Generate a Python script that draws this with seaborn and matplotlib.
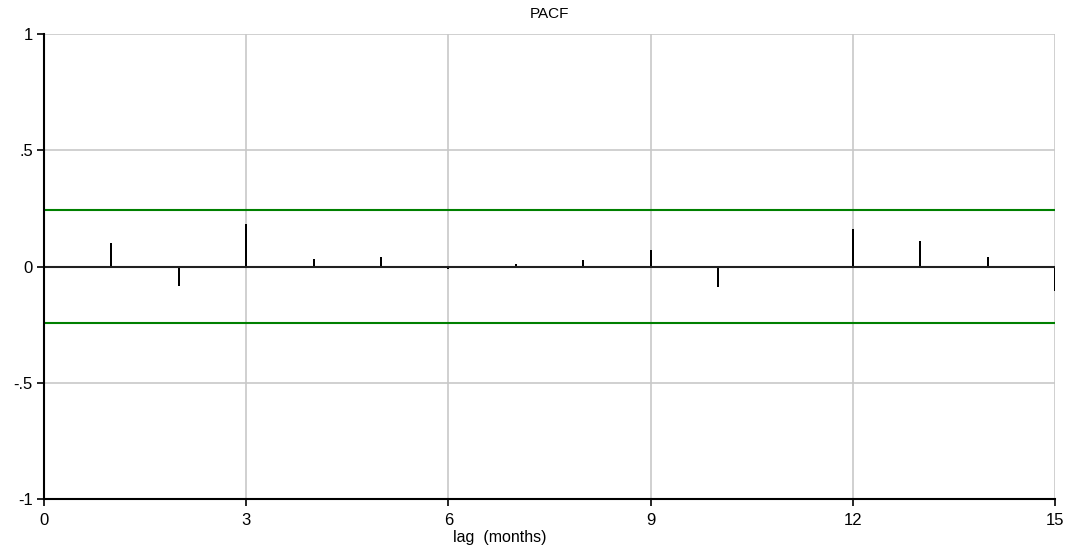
import matplotlib
matplotlib.use("Agg")
import matplotlib.pyplot as plt
import seaborn as sns
import numpy as np
import pandas as pd

lags = [1, 2, 3, 4, 5, 6, 7, 8, 9, 10, 11, 12, 13, 14, 15]
pacf = [0.103, -0.082, 0.182, 0.034, 0.041, -0.012, 0.009, 0.026, 0.073,
        -0.090, 0.0, 0.159, 0.110, 0.041, -0.105]
conf_bound = 0.243
x_ticks = [0, 3, 6, 9, 12, 15]
y_ticks = [-1, -0.5, 0, 0.5, 1]
y_tick_labels = ["-1", "-.5", "0", ".5", "1"]

sns.set_style("white")
plt.rcParams["font.family"] = ["Liberation Sans", "DejaVu Sans"]
plt.rcParams["text.color"] = "black"
plt.rcParams["axes.labelcolor"] = "black"

fig = plt.figure(figsize=(10.7, 5.5), dpi=100)
ax = fig.add_axes([44 / 1070, 1 - 499.3 / 550, 1011 / 1070, (499.3 - 33.7) / 550])

# grid
for xv in x_ticks[1:]:
    ax.axvline(xv, color="#c8c8c8", lw=1.2, zorder=0)
for yv in [0.5, 1, -0.5]:
    ax.axhline(yv, color="#c8c8c8", lw=1.2, zorder=0)

df = pd.DataFrame({"lag": lags, "pacf": pacf})
sns.barplot(data=df, x="lag", y="pacf", native_scale=True, width=0.028,
            color="black", saturation=1, linewidth=0, ax=ax, zorder=3)

bounds = pd.DataFrame({"x": [0, 15, 0, 15],
                       "y": [conf_bound, conf_bound, -conf_bound, -conf_bound],
                       "g": ["u", "u", "l", "l"]})
sns.lineplot(data=bounds, x="x", y="y", units="g", estimator=None,
             color="#008000", lw=1.5, ax=ax, zorder=2)
ax.axhline(0, color="#202020", lw=1.5, zorder=4)

ax.set_xlim(0, 15)
ax.set_ylim(-1, 1)
ax.set_xticks(x_ticks)
ax.set_xticklabels([str(t) for t in x_ticks])
ax.set_yticks(y_ticks)
ax.set_yticklabels(y_tick_labels)
ax.tick_params(axis="both", direction="out", length=5, width=1.2, colors="black",
               labelsize=12, left=True, bottom=True)
ax.tick_params(axis="x", pad=5)
ax.tick_params(axis="y", pad=3)

for s in ["top", "right"]:
    ax.spines[s].set_visible(False)
for s in ["left", "bottom"]:
    ax.spines[s].set_color("black")
    ax.spines[s].set_linewidth(1.5)
    ax.spines[s].set_zorder(5)

ax.set_ylabel("")
ax.set_xlabel("lag  (months)", fontsize=11.5)
ax.xaxis.set_label_coords((500 - 44) / 1011, -0.065)
ax.set_title("PACF", fontsize=11, pad=11, color="black")

fig.savefig("out.png", dpi=100, facecolor="white")
